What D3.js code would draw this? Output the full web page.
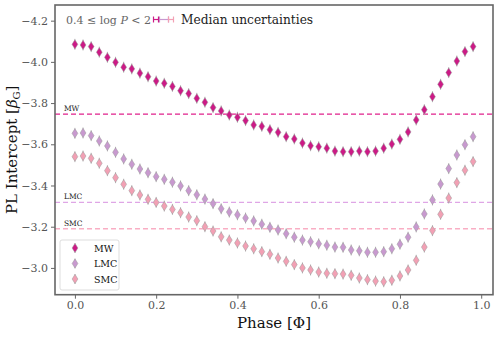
<!DOCTYPE html>
<html><head><meta charset="utf-8">
<script src="https://cdn.jsdelivr.net/npm/d3@7"></script>
<style>body{margin:0;background:#fff}svg{display:block}text{font-family:"DejaVu Serif","Liberation Serif",serif}</style>
</head><body><svg id="c" width="498" height="337"></svg>
<script>
const phase=[0.00,0.02,0.04,0.06,0.08,0.10,0.12,0.14,0.16,0.18,0.20,0.22,0.24,0.26,0.28,0.30,0.32,0.34,0.36,0.38,0.40,0.42,0.44,0.46,0.48,0.50,0.52,0.54,0.56,0.58,0.60,0.62,0.64,0.66,0.68,0.70,0.72,0.74,0.76,0.78,0.80,0.82,0.84,0.86,0.88,0.90,0.92,0.94,0.96,0.98];
const mw=[-4.085,-4.082,-4.074,-4.047,-4.022,-3.998,-3.974,-3.966,-3.945,-3.928,-3.907,-3.896,-3.881,-3.860,-3.846,-3.823,-3.804,-3.778,-3.762,-3.742,-3.731,-3.715,-3.694,-3.687,-3.671,-3.658,-3.637,-3.626,-3.606,-3.593,-3.588,-3.581,-3.567,-3.564,-3.564,-3.567,-3.564,-3.567,-3.581,-3.601,-3.624,-3.660,-3.718,-3.768,-3.831,-3.891,-3.948,-4.004,-4.050,-4.074];
const lmc=[-3.653,-3.655,-3.642,-3.616,-3.592,-3.561,-3.529,-3.503,-3.480,-3.462,-3.443,-3.430,-3.416,-3.398,-3.375,-3.355,-3.334,-3.312,-3.287,-3.271,-3.258,-3.242,-3.228,-3.212,-3.197,-3.184,-3.166,-3.149,-3.135,-3.127,-3.117,-3.110,-3.101,-3.100,-3.087,-3.083,-3.076,-3.076,-3.079,-3.093,-3.115,-3.149,-3.199,-3.262,-3.330,-3.407,-3.482,-3.548,-3.598,-3.637];
const smc=[-3.540,-3.543,-3.532,-3.508,-3.472,-3.438,-3.406,-3.375,-3.354,-3.333,-3.318,-3.300,-3.284,-3.268,-3.247,-3.229,-3.200,-3.179,-3.151,-3.135,-3.121,-3.106,-3.093,-3.079,-3.066,-3.048,-3.032,-3.016,-3.000,-2.990,-2.980,-2.974,-2.972,-2.970,-2.964,-2.951,-2.943,-2.936,-2.933,-2.940,-2.961,-2.990,-3.037,-3.101,-3.181,-3.260,-3.339,-3.414,-3.474,-3.516];
const seriesNames=["MW","LMC","SMC"];
const meanValues=[-3.746,-3.318,-3.190];
const xTicks=[0.0,0.2,0.4,0.6,0.8,1.0];
const yTicks=[-4.2,-4.0,-3.8,-3.6,-3.4,-3.2,-3.0];

const markerColors=["#cc1a86","#c899cf","#f2a0b4"];
const lineColors=["#e0208c","#dfa6e6","#f9aec4"];
const series=[mw,lmc,smc];

const svg=d3.select("#c");
const L=55,R=493,T=5,B=294.7;
const x=d3.scaleLinear().domain([-0.049,1.029]).range([L,R]);
const y=d3.scaleLinear().domain([-4.276,-2.870]).range([T,B]);

// mean lines
seriesNames.forEach((n,i)=>{
  svg.append("line").attr("x1",L).attr("x2",R).attr("y1",y(meanValues[i])).attr("y2",y(meanValues[i]))
    .attr("stroke",lineColors[i]).attr("stroke-width",1.3).attr("stroke-dasharray","5,3");
  svg.append("text").attr("x",x(-0.027)).attr("y",y(meanValues[i])-3).attr("font-size",7.5).attr("fill","#222").text(n);
});

const diamond="M0,-4.6L2.9,0L0,4.6L-2.9,0Z";
[2,1,0].forEach(i=>{
  const g=svg.append("g");
  series[i].forEach((v,j)=>{
    const cx=x(phase[j]),cy=y(v);
    g.append("line").attr("x1",cx).attr("x2",cx).attr("y1",cy-5.5).attr("y2",cy+5.5).attr("stroke","#b5b5b5").attr("stroke-width",1);
    g.append("path").attr("d",diamond).attr("transform",`translate(${cx},${cy})`)
      .attr("fill",markerColors[i]).attr("stroke","#999").attr("stroke-width",0.5);
  });
});

// axes
const ax=svg.append("g").attr("transform",`translate(0,${B})`).call(d3.axisBottom(x).tickValues(xTicks).tickFormat(d3.format(".1f")).tickSize(4).tickPadding(3));
const ay=svg.append("g").attr("transform",`translate(${L},0)`).call(d3.axisLeft(y).tickValues(yTicks).tickFormat(d=>d3.format(".1f")(d).replace("-","\u2212")).tickSize(4).tickPadding(3));
[ax,ay].forEach(a=>{
  a.select(".domain").remove();
  a.selectAll(".tick line").attr("stroke","#666");
  a.selectAll(".tick text").attr("font-size",11).attr("fill","#555").style("font-family","'DejaVu Serif',serif");
});
svg.append("rect").attr("x",L).attr("y",T).attr("width",R-L).attr("height",B-T).attr("fill","none").attr("stroke","#666").attr("stroke-width",1.6);

// axis labels
svg.append("text").attr("x",(L+R)/2).attr("y",328).attr("text-anchor","middle").attr("font-size",15).attr("fill","#111").text("Phase [Φ]");
const yl=svg.append("text").attr("transform",`translate(17,${(T+B)/2}) rotate(-90)`).attr("text-anchor","middle").attr("font-size",15).attr("fill","#111");
yl.append("tspan").text("PL Intercept [");
yl.append("tspan").attr("font-style","italic").text("β");
yl.append("tspan").attr("font-size",10).attr("dy",3).text("G");
yl.append("tspan").attr("dy",-3).text("]");

// annotation
const ann=svg.append("text").attr("x",66).attr("y",24).attr("font-size",11).attr("fill","#666");
ann.append("tspan").text("0.4 ≤ log ");
ann.append("tspan").attr("font-style","italic").text("P");
ann.append("tspan").text(" < 2");
// median uncertainty glyphs
const ux=[156,164,171],uw=[2.5,4.5,2.5];
[1,0,2].forEach(i=>{
  const cx=ux[i],cy=19.5,w=uw[i];
  svg.append("line").attr("x1",cx-w).attr("x2",cx+w).attr("y1",cy).attr("y2",cy).attr("stroke",markerColors[i]).attr("stroke-width",1.2);
  svg.append("line").attr("x1",cx-w).attr("x2",cx-w).attr("y1",cy-3).attr("y2",cy+3).attr("stroke",markerColors[i]).attr("stroke-width",1.2);
  svg.append("line").attr("x1",cx+w).attr("x2",cx+w).attr("y1",cy-3).attr("y2",cy+3).attr("stroke",markerColors[i]).attr("stroke-width",1.2);
});
svg.append("text").attr("x",181).attr("y",24).attr("font-size",12.2).attr("fill","#222").text("Median uncertainties");

// legend
svg.append("rect").attr("x",60).attr("y",240).attr("width",59).attr("height",50).attr("rx",2).attr("fill","#fff").attr("fill-opacity",0.8).attr("stroke","#ddd");
seriesNames.forEach((n,i)=>{
  const ly=248+i*15.5;
  svg.append("line").attr("x1",75).attr("x2",75).attr("y1",ly-5).attr("y2",ly+5).attr("stroke","#b5b5b5");
  svg.append("path").attr("d",diamond).attr("transform",`translate(75,${ly})`).attr("fill",markerColors[i]).attr("stroke","#999").attr("stroke-width",0.5);
  svg.append("text").attr("x",94).attr("y",ly+3.5).attr("font-size",9.5).attr("fill","#111").text(n);
});
</script></body></html>
